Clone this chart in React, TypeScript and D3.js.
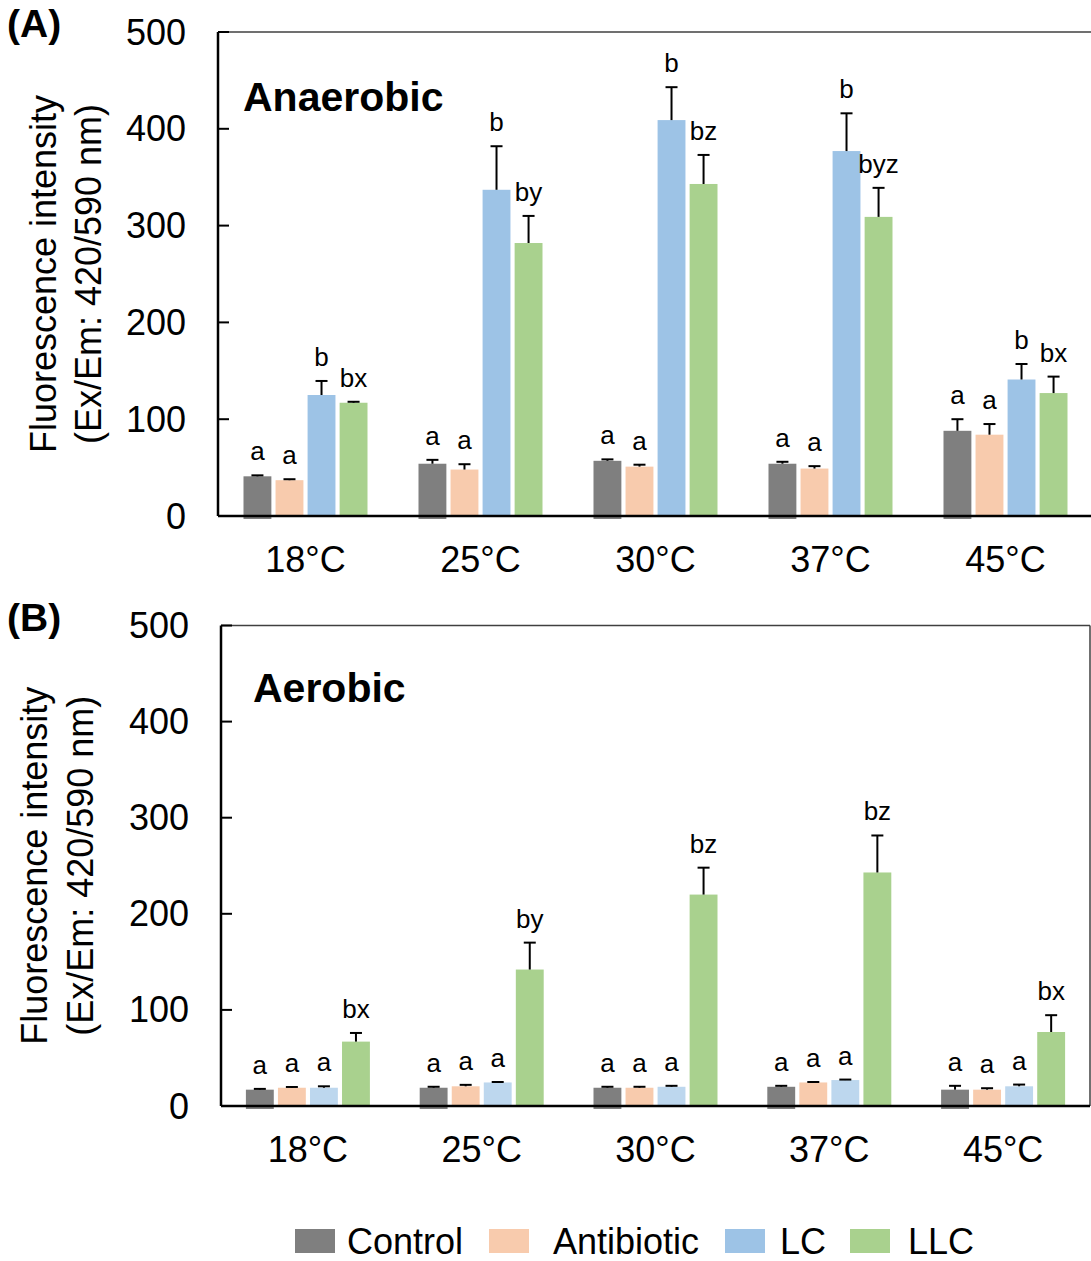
import React from 'react';
import * as d3 from 'd3';

const temps = ['18°C', '25°C', '30°C', '37°C', '45°C'];
const seriesNames = ['Control', 'Antibiotic', 'LC', 'LLC'];
const yTicks = [0, 100, 200, 300, 400, 500];

// (A) anaerobic
const anaControl = [41, 54, 57, 54, 88];
const anaControlErr = [1, 4, 1.5, 2, 12];
const anaAntibiotic = [37, 48, 51, 49, 84];
const anaAntibioticErr = [1, 5.5, 2, 2.5, 11];
const anaLC = [125, 337, 409, 377, 141];
const anaLCErr = [14.5, 45, 34, 39, 16];
const anaLLC = [117, 282, 343, 309, 127];
const anaLLCErr = [1, 28, 30, 30, 17];
const anaLetters = [
  ['a', 'a', 'a', 'a', 'a'],
  ['a', 'a', 'a', 'a', 'a'],
  ['b', 'b', 'b', 'b', 'b'],
  ['bx', 'by', 'bz', 'byz', 'bx'],
];

// (B) aerobic
const aerControl = [17, 19, 19, 20, 17];
const aerControlErr = [0.8, 1, 1, 1, 4];
const aerAntibiotic = [19, 20.5, 19, 24.5, 17];
const aerAntibioticErr = [0.8, 1.5, 1, 0.5, 1.5];
const aerLC = [19, 24.5, 20, 27, 20.5];
const aerLCErr = [1.5, 0.5, 1, 0.5, 1.8];
const aerLLC = [67, 142, 220, 243, 77];
const aerLLCErr = [9, 28, 28, 38.5, 17.5];
const aerLetters = [
  ['a', 'a', 'a', 'a', 'a'],
  ['a', 'a', 'a', 'a', 'a'],
  ['a', 'a', 'a', 'a', 'a'],
  ['bx', 'by', 'bz', 'bz', 'bx'],
];

const FONT = 'Liberation Sans, Arial, Helvetica, sans-serif';
const legendColors = ['#7f7f7f', '#f8cbad', '#9dc3e6', '#a9d18e'];

interface PanelProps {
  tag: string;
  title: string;
  left: number;
  right: number;
  top: number;
  bottom: number;
  titleX: number;
  titleY: number;
  labelX1: number;
  labelX2: number;
  values: number[][];
  errors: number[][];
  letters: string[][];
  colors: string[];
  showRight: boolean;
}

function Panel(p: PanelProps) {
  const x = d3.scaleBand<string>().domain(temps).range([p.left, p.right]).padding(0);
  const y = d3.scaleLinear().domain([0, 500]).range([p.bottom, p.top]);
  const groupW = 124;
  const inner = d3.scaleBand<string>().domain(seriesNames).range([0, groupW]).paddingInner(0.13).paddingOuter(0);
  const midY = (p.top + p.bottom) / 2;

  return (
    <g>
      {/* frame */}
      <line x1={p.left} x2={p.right} y1={p.top} y2={p.top} stroke="#404040" strokeWidth={1.5} />
      {p.showRight && <line x1={p.right} x2={p.right} y1={p.top} y2={p.bottom} stroke="#404040" strokeWidth={1.5} />}

      {/* bars */}
      {temps.map((t, i) => {
        const x0 = (x(t) ?? 0) + x.bandwidth() / 2 - groupW / 2;
        return (
          <g key={t}>
            {seriesNames.map((s, k) => {
              const v = p.values[k][i];
              const e = p.errors[k][i];
              const bx = x0 + (inner(s) ?? 0);
              const bw = inner.bandwidth();
              const cx = bx + bw / 2;
              const extra = k === 0 ? 3 : 0;
              return (
                <g key={s}>
                  <rect x={bx} y={y(v)} width={bw} height={p.bottom - y(v) + extra} fill={p.colors[k]} />
                  <line x1={cx} x2={cx} y1={y(v)} y2={y(v + e)} stroke="#000" strokeWidth={2} />
                  <line x1={cx - 6} x2={cx + 6} y1={y(v + e)} y2={y(v + e)} stroke="#000" strokeWidth={2} />
                  <text x={cx} y={y(v + e) - 15} textAnchor="middle" fontSize={26} fontFamily={FONT} fill="#000">
                    {p.letters[k][i]}
                  </text>
                </g>
              );
            })}
            <text x={(x(t) ?? 0) + x.bandwidth() / 2} y={p.bottom + 56} textAnchor="middle" fontSize={36} fontFamily={FONT} fill="#000">
              {t}
            </text>
          </g>
        );
      })}

      {/* axes */}
      <line x1={p.left} x2={p.left} y1={p.top} y2={p.bottom} stroke="#000" strokeWidth={2.5} />
      <line x1={p.left} x2={p.right} y1={p.bottom} y2={p.bottom} stroke="#000" strokeWidth={2.5} />
      {yTicks.map(t => (
        <g key={t}>
          <line x1={p.left} x2={p.left + 11} y1={y(t)} y2={y(t)} stroke="#000" strokeWidth={2} />
          <text x={p.left - 32} y={y(t)} textAnchor="end" dominantBaseline="central" fontSize={36} fontFamily={FONT} fill="#000">
            {t}
          </text>
        </g>
      ))}

      {/* axis title */}
      <text transform={`translate(${p.labelX1},${midY}) rotate(-90)`} textAnchor="middle" dominantBaseline="central" fontSize={36} fontFamily={FONT} fill="#000">
        Fluorescence intensity
      </text>
      <text transform={`translate(${p.labelX2},${midY}) rotate(-90)`} textAnchor="middle" dominantBaseline="central" fontSize={36} fontFamily={FONT} fill="#000">
        (Ex/Em: 420/590 nm)
      </text>

      <text x={p.titleX} y={p.titleY} fontSize={41} fontWeight="bold" fontFamily={FONT} fill="#000">
        {p.title}
      </text>
      <text x={7} y={p.top + 5} fontSize={39} fontWeight="bold" fontFamily={FONT} fill="#000">
        {p.tag}
      </text>
    </g>
  );
}

export default function App() {
  const legendX = [295, 489, 725, 850];
  const legendTextX = [347, 553, 780, 908];
  return (
    <svg width={1091} height={1261} style={{ position: 'absolute', left: 0, top: 0, background: '#fff' }}>
      <rect width={1091} height={1261} fill="#fff" />
      <Panel
        tag="(A)"
        title="Anaerobic"
        left={218}
        right={1093}
        top={32}
        bottom={516}
        titleX={243}
        titleY={111}
        labelX1={43}
        labelX2={88}
        values={[anaControl, anaAntibiotic, anaLC, anaLLC]}
        errors={[anaControlErr, anaAntibioticErr, anaLCErr, anaLLCErr]}
        letters={anaLetters}
        colors={['#7f7f7f', '#f8cbad', '#9dc3e6', '#a9d18e']}
        showRight={false}
      />
      <Panel
        tag="(B)"
        title="Aerobic"
        left={221}
        right={1090}
        top={625.5}
        bottom={1106}
        titleX={253}
        titleY={702}
        labelX1={34}
        labelX2={80}
        values={[aerControl, aerAntibiotic, aerLC, aerLLC]}
        errors={[aerControlErr, aerAntibioticErr, aerLCErr, aerLLCErr]}
        letters={aerLetters}
        colors={['#7f7f7f', '#f8cbad', '#bdd7ee', '#a9d18e']}
        showRight={true}
      />
      {/* legend */}
      {seriesNames.map((s, i) => (
        <g key={s}>
          <rect x={legendX[i]} y={1229} width={40} height={24} fill={legendColors[i]} />
          <text x={legendTextX[i]} y={1254} fontSize={36} fontFamily={FONT} fill="#000">
            {s}
          </text>
        </g>
      ))}
    </svg>
  );
}
